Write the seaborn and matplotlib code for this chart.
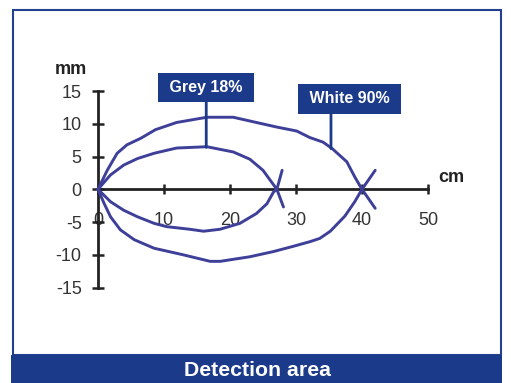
import matplotlib
matplotlib.use('Agg')
import matplotlib.pyplot as plt
from matplotlib.patches import Rectangle
import seaborn as sns

# --- data (x in cm, y in mm) ---
white_upper_x = [0, 1.4, 2.9, 4.4, 6.5, 8.7, 11.9, 16.5, 20.5, 24.0, 27.1, 30.1, 32.1, 34.1, 35.5, 37.7, 38.9, 40.0, 42.0]
white_upper_y = [0, 2.9, 5.5, 6.8, 7.8, 9.1, 10.2, 11.0, 11.0, 10.2, 9.5, 8.9, 7.9, 7.2, 6.2, 4.2, 1.9, 0, -2.9]
white_lower_x = [0, 0.9, 1.9, 3.4, 5.5, 8.5, 12.9, 17.0, 18.5, 23.0, 26.6, 29.6, 32.1, 33.6, 35.2, 37.4, 38.9, 40.0, 42.0]
white_lower_y = [0, -2.1, -4.2, -6.2, -7.7, -9.0, -10.0, -11.0, -11.0, -10.3, -9.5, -8.7, -8.0, -7.5, -6.4, -4.1, -1.9, 0, 2.9]

grey_upper_x = [0, 1.9, 3.9, 6.0, 8.5, 11.9, 16.5, 20.5, 23.0, 25.0, 26.3, 27.1, 28.1]
grey_upper_y = [0, 2.2, 3.7, 4.7, 5.5, 6.3, 6.5, 5.7, 4.6, 2.9, 1.1, 0, -2.7]
grey_lower_x = [0, 1.9, 3.9, 6.0, 8.5, 10.4, 13.9, 16.0, 18.5, 21.5, 24.0, 25.6, 26.6, 27.1, 27.9]
grey_lower_y = [0, -1.9, -3.2, -4.2, -5.2, -5.7, -6.1, -6.4, -6.1, -5.2, -3.7, -2.2, -0.4, 0, 2.9]

x_major = [0, 10, 20, 30, 40, 50]
x_minor = [5, 15, 25, 35, 45]
y_ticks = [-15, -10, -5, 0, 5, 10, 15]

labels = ['Grey 18%', 'White 90%']
label_xy = [(16.4, 15.55), (38.1, 13.8)]
leader_x = [16.4, 35.3]
leader_top = [13.3, 11.6]
leader_end = [6.4, 6.2]

title = 'Detection area'

# --- style ---
sns.set_theme(style='white')
plt.rcParams['font.family'] = ['Liberation Sans', 'DejaVu Sans']
plt.rcParams['axes.unicode_minus'] = False

line_color = '#3d3f98'
navy = '#1c3a8a'
axis_color = '#222222'

W, H = 511, 383
fig = plt.figure(figsize=(W / 100, H / 100), dpi=100)

# pixel mapping: x0=98px, 6.6 px/cm ; y0=189.3px, 6.55 px/mm
x0, xs = 98, 6.6
y0, ys = 189.3, 6.55
L, R, T, B = 20, 490, 20, 345
ax = fig.add_axes([L / W, 1 - B / H, (R - L) / W, (B - T) / H])
ax.set_xlim((L - x0) / xs, (R - x0) / xs)
ax.set_ylim((y0 - B) / ys, (y0 - T) / ys)
ax.patch.set_alpha(0)

for cx, cy in [(white_upper_x, white_upper_y), (white_lower_x, white_lower_y),
               (grey_upper_x, grey_upper_y), (grey_lower_x, grey_lower_y)]:
    sns.lineplot(x=cx, y=cy, sort=False, estimator=None, color=line_color,
                 linewidth=2.1, ax=ax)

# axes as crossing lines through the origin
for s in ['top', 'right']:
    ax.spines[s].set_visible(False)
ax.spines['left'].set_position(('data', 0))
ax.spines['bottom'].set_position(('data', 0))
ax.spines['left'].set_bounds(-15, 15)
ax.spines['bottom'].set_bounds(0, 50)
for s in ['left', 'bottom']:
    ax.spines[s].set_color(axis_color)
    ax.spines[s].set_linewidth(2.0)
    ax.spines[s].set_zorder(1)

ax.set_xticks(x_major)
ax.set_xticks(x_minor, minor=True)
ax.set_yticks(y_ticks)
ax.tick_params(axis='x', which='both', direction='inout', length=7.5, width=1.8,
               color=axis_color, labelsize=13, labelcolor='#333333', pad=12.5)
ax.tick_params(axis='y', direction='inout', length=8.5, width=1.8,
               color=axis_color, labelsize=13, labelcolor='#333333', pad=7.5)
ax.tick_params(left=True, bottom=True)
ax.grid(False)

# unit labels
fig.text(71 / W, 1 - 70 / H, 'mm', ha='center', va='center', fontsize=13,
         fontweight='bold', color='#222222')
fig.text(451 / W, 1 - 178 / H, 'cm', ha='center', va='center', fontsize=13,
         fontweight='bold', color='#222222')

# labelled boxes with leader lines
for txt, (tx, ty), lx, lt, le in zip(labels, label_xy, leader_x, leader_top, leader_end):
    ax.annotate('', xy=(lx, le), xytext=(lx, lt),
                arrowprops=dict(arrowstyle='-', color=navy, lw=2, shrinkA=0, shrinkB=0))
    ax.text(tx, ty, ' ' + txt + ' ', ha='center', va='center', fontsize=11.5,
            fontweight='bold', color='white',
            bbox=dict(boxstyle='square,pad=0.45', fc=navy, ec='none'))

# frame and bottom title band
fig.patches.append(Rectangle((12.5 / W, 1 - 355 / H), (501 - 12.5) / W, (355 - 10) / H,
                             transform=fig.transFigure, fill=False, ec='#23408f', lw=1.5))
fig.patches.append(Rectangle((11 / W, 0), (502 - 11) / W, 28 / H,
                             transform=fig.transFigure, fc=navy, ec='none'))
fig.text(257 / W, 1 - 370 / H, title, ha='center', va='center', fontsize=15.3,
         fontweight='bold', color='white')

fig.savefig('out.png', dpi=100)
